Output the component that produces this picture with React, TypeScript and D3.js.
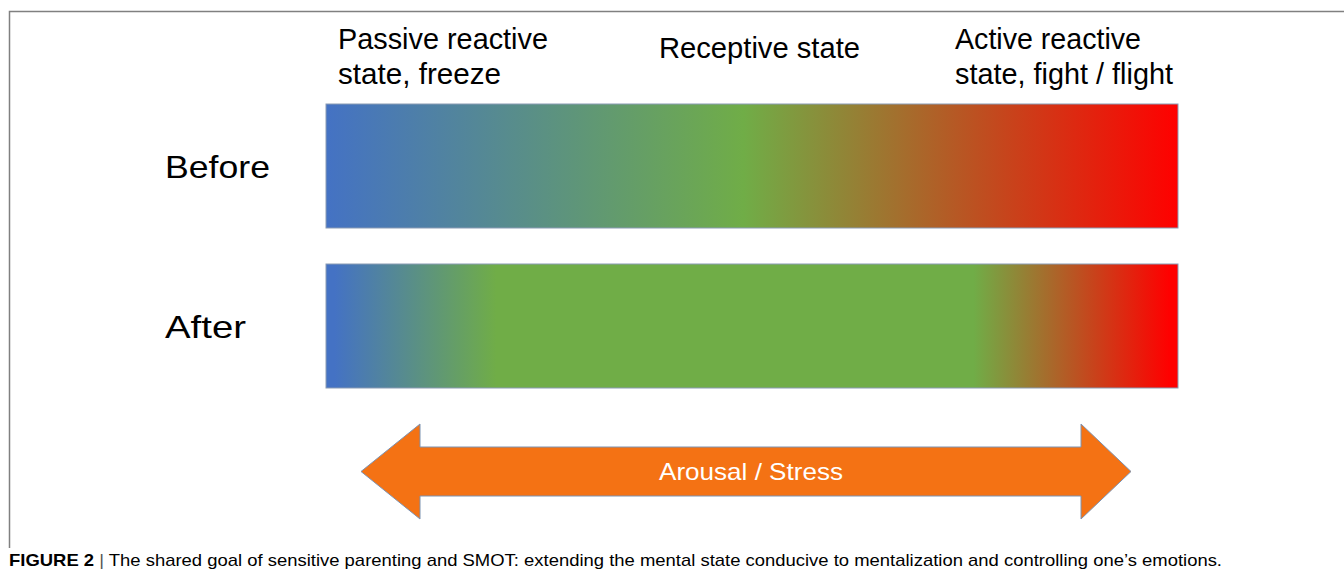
import React from "react";
import * as d3 from "d3";

const W = 1344;
const H = 581;

const rows = ["Before", "After"];
const rowLabelWidths = [105, 81];
const topLabels = [
  ["Passive reactive", "state, freeze"],
  ["Receptive state"],
  ["Active reactive", "state, fight / flight"],
];
const topLabelWidths = [
  [210, 163],
  [201],
  [186, 218],
];
const beforeStops = [
  { offset: 0, color: "#4472C4" },
  { offset: 0.49, color: "#70AD47" },
  { offset: 1, color: "#FF0000" },
];
const afterStops = [
  { offset: 0.01, color: "#4472C4" },
  { offset: 0.2, color: "#70AD47" },
  { offset: 0.76, color: "#70AD47" },
  { offset: 0.99, color: "#FF0000" },
];
const rowStops = [beforeStops, afterStops];
const arrowLabel = "Arousal / Stress";
const captionBold = "FIGURE 2";
const captionText =
  "The shared goal of sensitive parenting and SMOT: extending the mental state conducive to mentalization and controlling one\u2019s emotions.";

export default function App() {
  const x = d3.scaleLinear().domain([0, 1]).range([326, 1178]);
  const y = d3.scaleBand().domain(rows).range([104, 388]).paddingInner(0.225).paddingOuter(0);
  const font = "'Liberation Sans', Arial, sans-serif";

  // arrow geometry
  const ax0 = 361, ax1 = 1131, ahb0 = 420, ahb1 = 1081;
  const acy = 471.5, shaftH = 49, headH = 95;
  const arrow = d3.path();
  arrow.moveTo(ax0, acy);
  arrow.lineTo(ahb0, acy - headH / 2);
  arrow.lineTo(ahb0, acy - shaftH / 2);
  arrow.lineTo(ahb1, acy - shaftH / 2);
  arrow.lineTo(ahb1, acy - headH / 2);
  arrow.lineTo(ax1, acy);
  arrow.lineTo(ahb1, acy + headH / 2);
  arrow.lineTo(ahb1, acy + shaftH / 2);
  arrow.lineTo(ahb0, acy + shaftH / 2);
  arrow.lineTo(ahb0, acy + headH / 2);
  arrow.closePath();

  const labelX = [338, 659, 955];
  const labelY = [49, 58, 49];

  return (
    <svg
      width={W}
      height={H}
      style={{ position: "absolute", left: 0, top: 0, background: "#fff" }}
      fontFamily={font}
    >
      <defs>
        {rowStops.map((stops, i) => (
          <linearGradient key={i} id={`g${i}`} x1="0" x2="1" y1="0" y2="0">
            {stops.map((s, j) => (
              <stop key={j} offset={s.offset} stopColor={s.color} />
            ))}
          </linearGradient>
        ))}
      </defs>
      {/* frame */}
      <path d={`M9.5,548 L9.5,11.5 L${W},11.5`} fill="none" stroke="#808080" strokeWidth={1.5} />

      {topLabels.map((lines, i) =>
        lines.map((l, j) => (
          <text
            key={`${i}-${j}`}
            x={labelX[i]}
            y={labelY[i] + j * 35}
            fontSize={29}
            fill="#000"
            textLength={topLabelWidths[i][j]}
            lengthAdjust="spacingAndGlyphs"
          >
            {l}
          </text>
        ))
      )}

      {rows.map((r, i) => (
        <g key={r}>
          <rect
            x={x(0)}
            y={y(r)!}
            width={x(1) - x(0)}
            height={y.bandwidth()}
            fill={`url(#g${i})`}
            stroke="#8A9BB4"
            strokeWidth={1}
          />
          <text
            x={165}
            y={y(r)! + y.bandwidth() / 2}
            dy="0.36em"
            fontSize={32}
            fill="#000"
            textLength={rowLabelWidths[i]}
            lengthAdjust="spacingAndGlyphs"
          >
            {r}
          </text>
        </g>
      ))}

      <path d={arrow.toString()} fill="#F47214" stroke="#7D93B2" strokeWidth={1} />
      <text
        x={659}
        y={acy}
        dy="0.36em"
        fontSize={24}
        fill="#fff"
        textLength={184}
        lengthAdjust="spacingAndGlyphs"
      >
        {arrowLabel}
      </text>

      <text x={9} y={566} fontSize={17} fill="#000" textLength={1213} lengthAdjust="spacingAndGlyphs">
        <tspan fontWeight="bold">{captionBold}</tspan>
        <tspan fill="#555"> | </tspan>
        <tspan>{captionText}</tspan>
      </text>
    </svg>
  );
}
